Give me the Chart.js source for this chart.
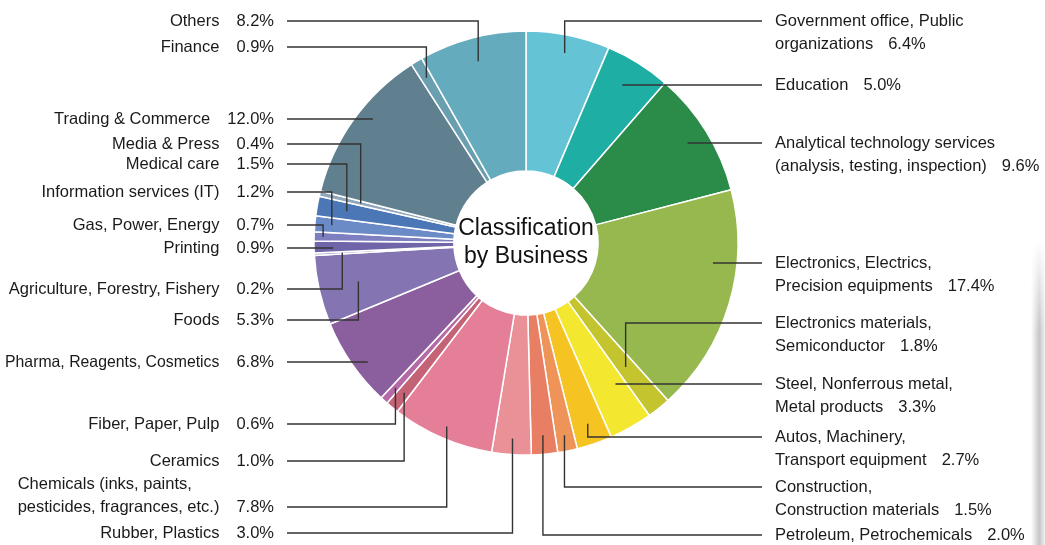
<!DOCTYPE html>
<html>
<head>
<meta charset="utf-8">
<script src="https://cdn.jsdelivr.net/npm/chart.js@4"></script>
<style>
  body { margin: 0; background: #fff; }
  #wrap { position: relative; width: 1045px; height: 545px; }
  #shade {
    position: absolute; right: 0; top: 240px; width: 14px; height: 305px;
    background: linear-gradient(to right, rgba(255,255,255,0), rgba(140,140,140,0.5) 60%, rgba(210,210,210,0.35));
    -webkit-mask-image: linear-gradient(to bottom, transparent, #000 30%);
    mask-image: linear-gradient(to bottom, transparent, #000 30%);
  }
</style>
</head>
<body>
<div id="wrap">
  <canvas id="chart"></canvas>
  <div id="shade"></div>
</div>
<script>
// Business categories, clockwise from 12 o'clock
const categories = [
  ['Government office, Public', 'organizations'],
  ['Education'],
  ['Analytical technology services', '(analysis, testing, inspection)'],
  ['Electronics, Electrics,', 'Precision equipments'],
  ['Electronics materials,', 'Semiconductor'],
  ['Steel, Nonferrous metal,', 'Metal products'],
  ['Autos, Machinery,', 'Transport equipment'],
  ['Construction,', 'Construction materials'],
  ['Petroleum, Petrochemicals'],
  ['Rubber, Plastics'],
  ['Chemicals (inks, paints,', 'pesticides, fragrances, etc.)'],
  ['Ceramics'],
  ['Fiber, Paper, Pulp'],
  ['Pharma, Reagents, Cosmetics'],
  ['Foods'],
  ['Agriculture, Forestry, Fishery'],
  ['Printing'],
  ['Gas, Power, Energy'],
  ['Information services (IT)'],
  ['Medical care'],
  ['Media & Press'],
  ['Trading & Commerce'],
  ['Finance'],
  ['Others'],
];
const shares = [6.4, 5.0, 9.6, 17.4, 1.8, 3.3, 2.7, 1.5, 2.0, 3.0, 7.8, 1.0, 0.6, 6.8, 5.3, 0.2, 0.9, 0.7, 1.2, 1.5, 0.4, 12.0, 0.9, 8.2];
const colors = [
  '#65c3d6', '#1faea3', '#2b8c4a', '#97b84f', '#c3c42e', '#f4e72f',
  '#f5c422', '#ee9459', '#e87e63', '#ea9198', '#e47f97', '#c46276',
  '#b56aa8', '#8b5e9e', '#8475b2', '#a9a0cc', '#7065a8', '#7d7fc0',
  '#6b8bc7', '#4c77b6', '#8fa6bd', '#61808f', '#6a9fb0', '#64abbd',
];
const centerTitle = ['Classification', 'by Business'];

// leader layout: side, y of the label line, radius of the point in the slice, straight or elbow
const leaders = [
  { side: 'R', y: 21, r: 194 }, { side: 'R', y: 85, r: 185, straight: true },
  { side: 'R', y: 143, r: 190, straight: true }, { side: 'R', y: 263, r: 188, straight: true },
  { side: 'R', y: 323, r: 159 }, { side: 'R', y: 384, r: 167, straight: true },
  { side: 'R', y: 437, r: 191 }, { side: 'R', y: 487, r: 196 },
  { side: 'R', y: 535, r: 193 }, { side: 'L', y: 533, r: 196 },
  { side: 'L', y: 507, r: 200 }, { side: 'L', y: 461, r: 193 },
  { side: 'L', y: 424, r: 195 }, { side: 'L', y: 362, r: 198, straight: true },
  { side: 'L', y: 320, r: 172 }, { side: 'L', y: 289, r: 184 },
  { side: 'L', y: 248, r: 193, straight: true }, { side: 'L', y: 225, r: 203 },
  { side: 'L', y: 192, r: 195 }, { side: 'L', y: 164, r: 182 },
  { side: 'L', y: 144, r: 170 }, { side: 'L', y: 119, r: 197, straight: true },
  { side: 'L', y: 47, r: 193 }, { side: 'L', y: 21, r: 188 },
];

const FONT = '16.5px "Liberation Sans", Arial, sans-serif';

const leaderLabels = {
  id: 'leaderLabels',
  afterDraw(chart) {
    const ctx = chart.ctx;
    const arcs = chart.getDatasetMeta(0).data;
    ctx.save();
    ctx.font = FONT;
    ctx.fillStyle = '#1a1a1a';
    ctx.textBaseline = 'middle';
    arcs.forEach((arc, i) => {
      const { x, y, startAngle, endAngle } = arc.getProps(['x', 'y', 'startAngle', 'endAngle'], true);
      const L = leaders[i];
      const right = L.side === 'R';
      let ax, ay;
      if (L.straight) {
        ay = L.y;
        const dy = L.y - y;
        ax = x + (right ? 1 : -1) * Math.sqrt(Math.max(L.r * L.r - dy * dy, 0));
      } else {
        const mid = (startAngle + endAngle) / 2;
        ax = x + L.r * Math.cos(mid);
        ay = y + L.r * Math.sin(mid);
      }
      const lx = right ? 762 : 287;
      ctx.strokeStyle = '#333';
      ctx.lineWidth = 1.4;
      ctx.beginPath();
      ctx.moveTo(lx, L.y);
      ctx.lineTo(ax, L.y);
      ctx.lineTo(ax, ay);
      ctx.stroke();

      const lines = categories[i];
      const pct = shares[i].toFixed(1) + '%';
      if (right) {
        ctx.textAlign = 'left';
        lines.forEach((t, k) => {
          const ty = L.y + k * 23;
          ctx.fillText(t, 775, ty);
          if (k === lines.length - 1) {
            ctx.fillText(pct, 775 + ctx.measureText(t).width + 15, ty);
          }
        });
      } else {
        ctx.textAlign = 'right';
        ctx.fillText(pct, 274, L.y);
        const nameRight = 274 - ctx.measureText(pct).width - 17;
        const last = lines[lines.length - 1];
        const maxW = nameRight - 5;
        ctx.fillText(last, nameRight, L.y, maxW);
        if (lines.length > 1) {
          const startX = nameRight - Math.min(ctx.measureText(last).width, maxW);
          ctx.textAlign = 'left';
          ctx.fillText(lines[0], startX, L.y - 23);
        }
      }
    });

    // center title
    const c = arcs[0];
    ctx.font = '23px "Liberation Sans", Arial, sans-serif';
    ctx.textAlign = 'center';
    ctx.fillStyle = '#111';
    ctx.fillText(centerTitle[0], c.x, c.y - 14);
    ctx.fillText(centerTitle[1], c.x, c.y + 14);
    ctx.restore();
  }
};

new Chart(document.getElementById('chart').getContext('2d'), {
  type: 'doughnut',
  data: {
    labels: categories.map(c => c.join(' ')),
    datasets: [{
      data: shares,
      backgroundColor: colors,
      borderColor: '#fff',
      borderWidth: 1.5,
    }],
  },
  options: {
    responsive: true,
    maintainAspectRatio: false,
    animation: false,
    radius: 212,
    cutout: '34%',
    layout: { padding: { left: 7, right: 0, top: 0, bottom: 59 } },
    plugins: {
      legend: { display: false },
      tooltip: { enabled: false },
    },
  },
  plugins: [leaderLabels],
});
</script>
</body>
</html>
